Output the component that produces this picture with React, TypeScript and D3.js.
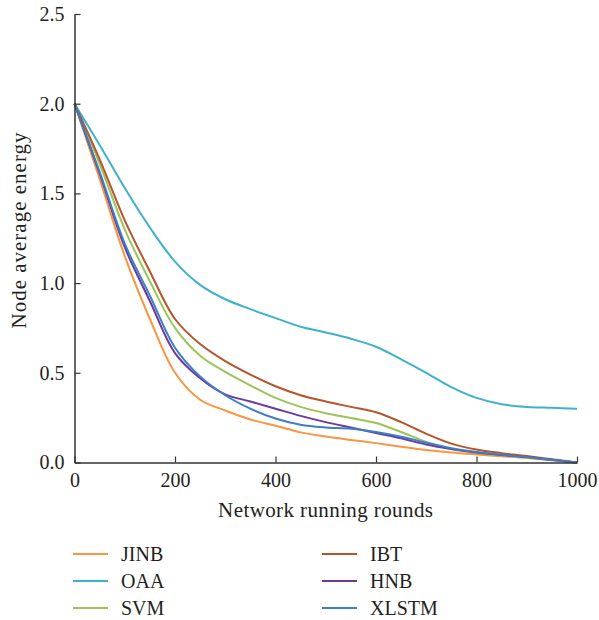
import React, { useEffect, useRef } from "react";
import * as d3 from "d3";

const rounds = [0, 50, 100, 150, 200, 250, 300, 350, 400, 450, 500, 550, 600, 650, 700, 750, 800, 850, 900, 950, 1000];

const jinb = [2.0, 1.58, 1.15, 0.8, 0.5, 0.35, 0.29, 0.24, 0.205, 0.168, 0.145, 0.126, 0.108, 0.088, 0.07, 0.056, 0.045, 0.035, 0.025, 0.012, 0];
const oaa = [2.0, 1.77, 1.53, 1.31, 1.12, 0.99, 0.91, 0.855, 0.805, 0.757, 0.725, 0.69, 0.645, 0.575, 0.5, 0.42, 0.36, 0.325, 0.31, 0.305, 0.3];
const svm = [2.0, 1.665, 1.3, 1.01, 0.75, 0.595, 0.505, 0.43, 0.36, 0.31, 0.275, 0.248, 0.22, 0.17, 0.115, 0.075, 0.055, 0.04, 0.028, 0.014, 0];
const ibt = [2.0, 1.69, 1.35, 1.065, 0.8, 0.66, 0.565, 0.49, 0.425, 0.375, 0.34, 0.31, 0.28, 0.225, 0.16, 0.105, 0.072, 0.052, 0.036, 0.018, 0];
const hnb = [2.0, 1.61, 1.2, 0.9, 0.61, 0.47, 0.38, 0.34, 0.3, 0.26, 0.225, 0.195, 0.165, 0.135, 0.1, 0.075, 0.056, 0.042, 0.03, 0.015, 0];
const xlstm = [2.0, 1.62, 1.22, 0.93, 0.64, 0.48, 0.375, 0.3, 0.245, 0.21, 0.195, 0.188, 0.17, 0.144, 0.11, 0.08, 0.058, 0.043, 0.03, 0.015, 0];

const seriesNames = ["JINB", "OAA", "SVM", "IBT", "HNB", "XLSTM"];
const seriesValues = [jinb, oaa, svm, ibt, hnb, xlstm];
const colors = ["#F9963F", "#3FB1CB", "#9DC45A", "#B6552B", "#6B3A9B", "#3F7EC5"];

const xTicks = [0, 200, 400, 600, 800, 1000];
const yTicks = [0, 0.5, 1.0, 1.5, 2.0, 2.5];

const FONT = "'Liberation Serif', 'Times New Roman', serif";

const App = () => {
  const svgRef = useRef<SVGSVGElement>(null);
  const width = 599;
  const height = 620;

  useEffect(() => {
    const svg = d3.select(svgRef.current);
    svg.selectAll("*").remove();

    const xScale = d3.scaleLinear().domain([0, 1000]).range([74.5, 577]);
    const yScale = d3.scaleLinear().domain([0, 2.5]).range([462.5, 14]);

    const line = d3
      .line<number>()
      .x((d, i) => xScale(rounds[i]))
      .y((d) => yScale(d))
      .curve(d3.curveCatmullRom.alpha(0.5));

    seriesValues.forEach((vals, i) => {
      svg
        .append("path")
        .attr("d", line(vals))
        .attr("fill", "none")
        .attr("stroke", colors[i])
        .attr("stroke-width", 2);
    });

    const xAxis = svg
      .append("g")
      .attr("transform", `translate(0, ${yScale(0)})`)
      .call(
        d3
          .axisBottom(xScale)
          .tickValues(xTicks)
          .tickSizeInner(-6)
          .tickSizeOuter(0)
          .tickPadding(10)
          .tickFormat(d3.format("d"))
      );

    const yAxis = svg
      .append("g")
      .attr("transform", `translate(${xScale(0)}, 0)`)
      .call(
        d3
          .axisLeft(yScale)
          .tickValues(yTicks)
          .tickSizeInner(-6)
          .tickSizeOuter(0)
          .tickPadding(10)
          .tickFormat(d3.format(".1f"))
      );

    [xAxis, yAxis].forEach((g) => {
      g.selectAll("path").attr("stroke", "#333").attr("stroke-width", 1.5);
      g.selectAll("line").attr("stroke", "#333").attr("stroke-width", 1.2);
      g.selectAll("text")
        .attr("fill", "#231f20")
        .attr("font-family", FONT)
        .attr("font-size", 20);
    });

    svg
      .append("text")
      .attr("x", xScale(500))
      .attr("y", 517)
      .attr("text-anchor", "middle")
      .attr("fill", "#231f20")
      .attr("font-family", FONT)
      .attr("font-size", 21)
      .attr("letter-spacing", 0.4)
      .text("Network running rounds");

    svg
      .append("text")
      .attr("transform", `translate(26, 230) rotate(-90)`)
      .attr("text-anchor", "middle")
      .attr("fill", "#231f20")
      .attr("font-family", FONT)
      .attr("font-size", 21)
      .attr("letter-spacing", 1)
      .text("Node average energy");

    const legend = svg.append("g");
    seriesNames.forEach((name, i) => {
      const col = Math.floor(i / 3);
      const row = i % 3;
      const lx = col === 0 ? 73 : 322;
      const ly = 554 + row * 27;
      legend
        .append("line")
        .attr("x1", lx)
        .attr("x2", lx + 35)
        .attr("y1", ly)
        .attr("y2", ly)
        .attr("stroke", colors[i])
        .attr("stroke-width", 2);
      legend
        .append("text")
        .attr("x", lx + 48)
        .attr("y", ly)
        .attr("dy", "0.35em")
        .attr("fill", "#231f20")
        .attr("font-family", FONT)
        .attr("font-size", 20)
        .text(name);
    });
  }, []);

  return (
    <svg
      ref={svgRef}
      width={width}
      height={height}
      style={{ position: "absolute", left: 0, top: 0, background: "#fff" }}
    />
  );
};

export default App;
